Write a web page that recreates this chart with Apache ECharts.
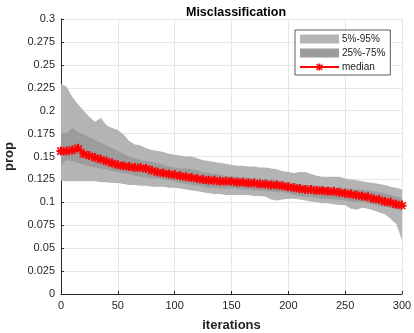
<!DOCTYPE html>
<html>
<head>
<meta charset="utf-8">
<script src="https://cdn.jsdelivr.net/npm/echarts@6/dist/echarts.min.js"></script>
<style>
  html, body { margin: 0; padding: 0; background: #fff; }
  #chart { width: 414px; height: 333px; }
</style>
</head>
<body>
<div id="chart"></div>
<script>
// iterations sampled every 5 steps
const iters = [0, 5, 10, 15, 20, 25, 30, 35, 40, 45, 50, 55, 60, 65, 70, 75, 80, 85, 90, 95,
  100, 105, 110, 115, 120, 125, 130, 135, 140, 145, 150, 155, 160, 165, 170, 175, 180, 185, 190, 195,
  200, 205, 210, 215, 220, 225, 230, 235, 240, 245, 250, 255, 260, 265, 270, 275, 280, 285, 290, 295, 300]

const p95 = [0.229, 0.226, 0.215, 0.207, 0.200, 0.193, 0.188, 0.192, 0.184, 0.181, 0.179, 0.174, 0.167, 0.163, 0.162, 0.159, 0.157, 0.156, 0.155, 0.153,
  0.152, 0.151, 0.150, 0.150, 0.148, 0.146, 0.145, 0.144, 0.143, 0.142, 0.141, 0.140, 0.140, 0.139, 0.139, 0.138, 0.138, 0.137, 0.136, 0.134,
  0.133, 0.132, 0.133, 0.133, 0.131, 0.129, 0.128, 0.128, 0.128, 0.128, 0.126, 0.125, 0.124, 0.123, 0.122, 0.121, 0.120, 0.119, 0.117, 0.116, 0.114]

const p75 = [0.176, 0.176, 0.181, 0.177, 0.174, 0.171, 0.168, 0.165, 0.162, 0.159, 0.156, 0.153, 0.150, 0.148, 0.146, 0.145, 0.144, 0.143, 0.141, 0.139,
  0.138, 0.137, 0.137, 0.136, 0.135, 0.133, 0.132, 0.131, 0.130, 0.129, 0.128, 0.128, 0.127, 0.127, 0.126, 0.126, 0.125, 0.125, 0.124, 0.123,
  0.122, 0.121, 0.120, 0.119, 0.119, 0.118, 0.117, 0.117, 0.116, 0.116, 0.115, 0.115, 0.114, 0.114, 0.113, 0.112, 0.111, 0.110, 0.108, 0.106, 0.104]

const median = [0.156, 0.156, 0.157, 0.159, 0.153, 0.151, 0.149, 0.147, 0.145, 0.143, 0.141, 0.140, 0.139, 0.138, 0.138, 0.137, 0.135, 0.133, 0.132, 0.131,
  0.130, 0.129, 0.128, 0.127, 0.126, 0.125, 0.124, 0.124, 0.123, 0.123, 0.123, 0.122, 0.122, 0.121, 0.121, 0.120, 0.120, 0.119, 0.119, 0.118,
  0.117, 0.116, 0.115, 0.114, 0.114, 0.113, 0.113, 0.112, 0.112, 0.111, 0.110, 0.109, 0.108, 0.107, 0.106, 0.104, 0.103, 0.101, 0.100, 0.098, 0.097]

const p25 = [0.141, 0.146, 0.145, 0.143, 0.141, 0.139, 0.138, 0.137, 0.136, 0.134, 0.133, 0.132, 0.131, 0.129, 0.128, 0.127, 0.126, 0.126, 0.125, 0.124,
  0.123, 0.121, 0.120, 0.119, 0.118, 0.117, 0.116, 0.116, 0.115, 0.115, 0.115, 0.115, 0.114, 0.114, 0.113, 0.113, 0.112, 0.112, 0.111, 0.111,
  0.110, 0.108, 0.107, 0.106, 0.106, 0.105, 0.104, 0.104, 0.103, 0.103, 0.102, 0.101, 0.100, 0.100, 0.099, 0.098, 0.096, 0.095, 0.094, 0.093, 0.091]

const p5 = [0.1235, 0.123, 0.123, 0.123, 0.123, 0.123, 0.123, 0.122, 0.122, 0.121, 0.121, 0.120, 0.119, 0.119, 0.118, 0.118, 0.117, 0.117, 0.117, 0.116,
  0.116, 0.115, 0.114, 0.113, 0.112, 0.111, 0.110, 0.109, 0.109, 0.108, 0.108, 0.108, 0.108, 0.108, 0.107, 0.107, 0.106, 0.103, 0.102, 0.103,
  0.104, 0.104, 0.103, 0.102, 0.101, 0.100, 0.099, 0.099, 0.098, 0.097, 0.097, 0.093, 0.092, 0.094, 0.093, 0.091, 0.089, 0.087, 0.082, 0.076, 0.059]

const font = 'Liberation Sans, Arial, sans-serif'
// band thickness on top of the lower edge, for stacking
const diff = (hi, lo) => hi.map((v, i) => +(v - lo[i]).toFixed(4))

const star = 'path://M-0.25,-1H0.25V-0.35L0.7,-0.75L1,-0.45L0.45,-0.1H1V0.35H0.45L0.85,0.75L0.55,1L0.15,0.5V1H-0.3V0.5L-0.7,0.95L-1,0.65L-0.5,0.2H-1V-0.25H-0.5L-0.95,-0.65L-0.65,-0.95L-0.25,-0.4Z'

const chart = echarts.init(document.getElementById('chart'))
chart.setOption({
  animation: false,
  textStyle: { fontFamily: font },
  title: {
    text: 'Misclassification',
    left: 231,
    textAlign: 'center',
    top: 1,
    textStyle: { fontSize: 12.5, fontWeight: 'bold', color: '#000', fontFamily: font }
  },
  grid: { left: 61, right: 12, top: 19, bottom: 39, containLabel: false, outerBoundsMode: 'none' },
  legend: {
    orient: 'vertical',
    left: 295,
    top: 30,
    padding: [4, 5, 3, 4],
    itemGap: 4,
    itemWidth: 39,
    itemHeight: 9,
    backgroundColor: '#fff',
    borderColor: '#333',
    borderWidth: 0.8,
    textStyle: { fontSize: 10, color: '#222', fontFamily: font, padding: [0, 0, 0, -2] },
    data: [
      { name: '5%-95%', icon: 'rect' },
      { name: '25%-75%', icon: 'rect' },
      { name: 'median' }
    ]
  },
  xAxis: {
    type: 'category',
    data: iters.map(String),
    boundaryGap: false,
    name: 'iterations',
    nameLocation: 'middle',
    nameGap: 25,
    nameTextStyle: { fontSize: 13, fontWeight: 'bold', color: '#222' },
    axisLine: { lineStyle: { color: '#262626', width: 1 } },
    axisTick: { inside: true, length: 3, interval: 9, lineStyle: { color: '#262626' } },
    axisLabel: { fontSize: 11, color: '#262626', margin: 6, interval: 9 },
    splitLine: { show: true, interval: 9, lineStyle: { color: '#e6e6e6', width: 1 } }
  },
  yAxis: {
    type: 'value',
    min: 0,
    max: 0.3,
    interval: 0.025,
    name: 'prop',
    nameLocation: 'middle',
    nameGap: 45,
    nameRotate: 90,
    nameTextStyle: { fontSize: 13, fontWeight: 'bold', color: '#222' },
    axisLine: { show: true, lineStyle: { color: '#262626', width: 1 } },
    axisTick: { show: true, inside: true, length: 3, lineStyle: { color: '#262626' } },
    axisLabel: { fontSize: 11, color: '#262626', margin: 6 },
    splitLine: { show: true, lineStyle: { color: '#e6e6e6', width: 1 } }
  },
  series: [
    {
      name: 'p5base', type: 'line', stack: 'outer', data: p5,
      symbol: 'none', lineStyle: { opacity: 0 }, silent: true
    },
    {
      name: '5%-95%', type: 'line', stack: 'outer', data: diff(p95, p5),
      symbol: 'none', lineStyle: { opacity: 0 }, itemStyle: { color: '#b4b4b4' },
      areaStyle: { color: '#b4b4b4', opacity: 1 }
    },
    {
      name: 'p25base', type: 'line', stack: 'inner', data: p25,
      symbol: 'none', lineStyle: { opacity: 0 }, silent: true
    },
    {
      name: '25%-75%', type: 'line', stack: 'inner', data: diff(p75, p25),
      symbol: 'none', lineStyle: { opacity: 0 }, itemStyle: { color: '#9c9c9c' },
      areaStyle: { color: '#9c9c9c', opacity: 1 }
    },
    {
      name: 'median', type: 'line', data: median,
      symbol: star, symbolSize: 9, showAllSymbol: true,
      itemStyle: { color: '#ff0000' },
      lineStyle: { color: '#ff0000', width: 2.5 }
    }
  ]
})
</script>
</body>
</html>
